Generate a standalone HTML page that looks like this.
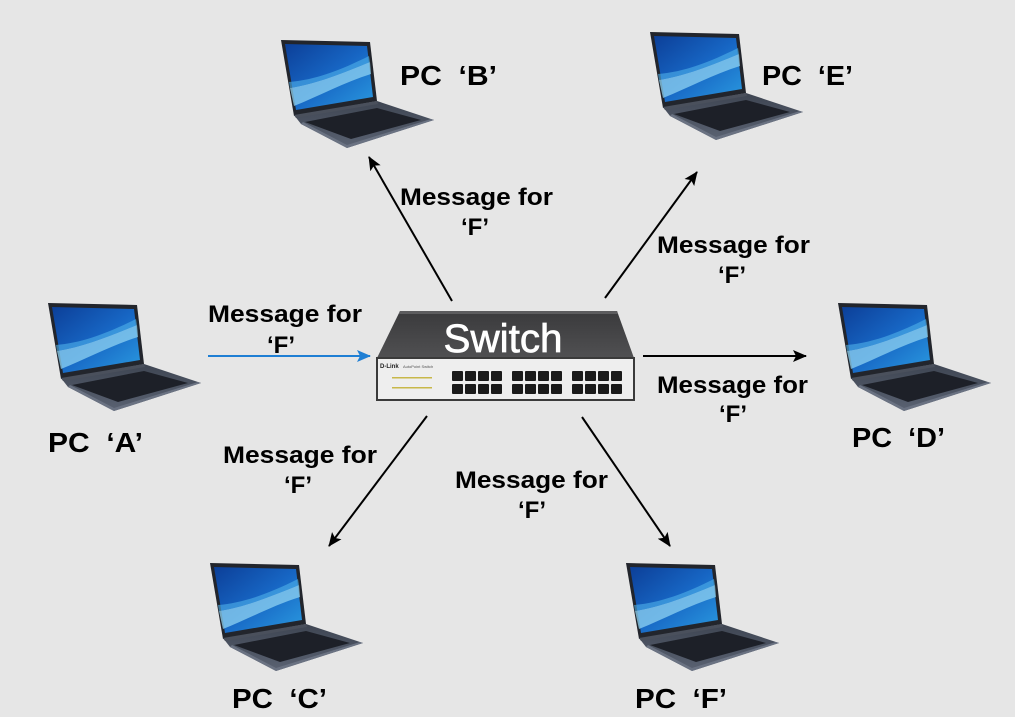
<!DOCTYPE html>
<html><head><meta charset="utf-8"><style>
html,body{margin:0;padding:0;background:#e6e6e6;}
svg{display:block;}
text{font-family:"Liberation Sans",Arial,sans-serif;}
</style></head><body>
<svg width="1015" height="717" viewBox="0 0 1015 717" xmlns="http://www.w3.org/2000/svg">
<defs>
 <linearGradient id="scrG" x1="0" y1="0" x2="1" y2="1">
  <stop offset="0" stop-color="#0c3f98"/>
  <stop offset="0.5" stop-color="#1766c4"/>
  <stop offset="1" stop-color="#2a9ae0"/>
 </linearGradient>
 <linearGradient id="baseG" x1="0" y1="0" x2="0" y2="1">
  <stop offset="0" stop-color="#3e4552"/>
  <stop offset="1" stop-color="#5a6272"/>
 </linearGradient>
 <linearGradient id="topG" x1="0" y1="0" x2="0" y2="1">
  <stop offset="0" stop-color="#3a3a3c"/>
  <stop offset="1" stop-color="#505052"/>
 </linearGradient>
 <marker id="ah" viewBox="0 0 14 12" refX="13" refY="6" markerWidth="14" markerHeight="12" markerUnits="userSpaceOnUse" orient="auto">
  <path d="M0,0 L14,6 L0,12 L3,6 Z" fill="#000"/>
 </marker>
 <marker id="ahb" viewBox="0 0 14 12" refX="13" refY="6" markerWidth="14" markerHeight="12" markerUnits="userSpaceOnUse" orient="auto">
  <path d="M0,0 L14,6 L0,12 L3,6 Z" fill="#1f7fd4"/>
 </marker>
 <g id="lap">
  <polygon points="13,75 96,61 153,80 66,108 20,84" fill="url(#baseG)"/>
  <polygon points="24,82 96,68 140,80 70,99" fill="#1d2028"/>
  <polygon points="20,84 66,108 153,80 150,79 66,105 22,82" fill="#6a7282"/>
  <polygon points="0,0 89,2 96,61 13,76" fill="#22252c"/>
  <polygon points="4,4 86,6 92,57 15,70" fill="url(#scrG)"/>
  <path d="M9,48 C35,44 62,33 89,22 L90,34 C64,42 38,56 13,66 Z" fill="#8fd3f2" opacity="0.75"/>
  <path d="M8,42 C34,40 60,30 88,16 L89,22 C62,33 35,44 9,48 Z" fill="#4fb0ea" opacity="0.6"/>
  <polygon points="13,75 96,61 97,64 15,78" fill="#4a505c"/>
 </g>
</defs>

<!-- laptops -->
<use href="#lap" x="48" y="303"/>
<use href="#lap" x="281" y="40"/>
<use href="#lap" x="650" y="32"/>
<use href="#lap" x="838" y="303"/>
<use href="#lap" x="210" y="563"/>
<use href="#lap" x="626" y="563"/>

<!-- switch -->
<polygon points="400,311 617,311 634,358 377,358" fill="url(#topG)"/>
<polygon points="400,311 617,311 618,314 399,314" fill="#5c5c5e"/>
<rect x="377" y="358" width="257" height="42" fill="#eeeeee" stroke="#3a3a3a" stroke-width="2"/>
<text x="380" y="368" font-size="6" font-weight="bold" fill="#222">D-Link</text>
<text x="403" y="368" font-size="4" fill="#555">AutoPoint Switch</text>
<g fill="#c8b84a">
 <rect x="392" y="377" width="40" height="1.5"/>
 <rect x="392" y="387" width="40" height="1.5"/>
</g>
<g fill="#1a1a1a">
 <rect x="452" y="371" width="11" height="10" rx="1"/><rect x="465" y="371" width="11" height="10" rx="1"/><rect x="478" y="371" width="11" height="10" rx="1"/><rect x="491" y="371" width="11" height="10" rx="1"/>
 <rect x="452" y="384" width="11" height="10" rx="1"/><rect x="465" y="384" width="11" height="10" rx="1"/><rect x="478" y="384" width="11" height="10" rx="1"/><rect x="491" y="384" width="11" height="10" rx="1"/>
 <rect x="512" y="371" width="11" height="10" rx="1"/><rect x="525" y="371" width="11" height="10" rx="1"/><rect x="538" y="371" width="11" height="10" rx="1"/><rect x="551" y="371" width="11" height="10" rx="1"/>
 <rect x="512" y="384" width="11" height="10" rx="1"/><rect x="525" y="384" width="11" height="10" rx="1"/><rect x="538" y="384" width="11" height="10" rx="1"/><rect x="551" y="384" width="11" height="10" rx="1"/>
 <rect x="572" y="371" width="11" height="10" rx="1"/><rect x="585" y="371" width="11" height="10" rx="1"/><rect x="598" y="371" width="11" height="10" rx="1"/><rect x="611" y="371" width="11" height="10" rx="1"/>
 <rect x="572" y="384" width="11" height="10" rx="1"/><rect x="585" y="384" width="11" height="10" rx="1"/><rect x="598" y="384" width="11" height="10" rx="1"/><rect x="611" y="384" width="11" height="10" rx="1"/>
</g>
<text x="503" y="352" font-size="40" fill="#ffffff" stroke="#ffffff" stroke-width="0.7" text-anchor="middle" textLength="119" lengthAdjust="spacingAndGlyphs">Switch</text>

<!-- arrows -->
<line x1="208" y1="356" x2="370" y2="356" stroke="#1f7fd4" stroke-width="2" marker-end="url(#ahb)"/>
<line x1="643" y1="356" x2="806" y2="356" stroke="#000" stroke-width="2" marker-end="url(#ah)"/>
<line x1="452" y1="301" x2="369" y2="157" stroke="#000" stroke-width="2" marker-end="url(#ah)"/>
<line x1="605" y1="298" x2="697" y2="172" stroke="#000" stroke-width="2" marker-end="url(#ah)"/>
<line x1="427" y1="416" x2="329" y2="546" stroke="#000" stroke-width="2" marker-end="url(#ah)"/>
<line x1="582" y1="417" x2="670" y2="546" stroke="#000" stroke-width="2" marker-end="url(#ah)"/>

<!-- PC labels -->
<g font-size="28" font-weight="bold" fill="#000">
 <text x="48" y="452" textLength="95" lengthAdjust="spacingAndGlyphs">PC&#160;&#160;‘A’</text>
 <text x="400" y="85" textLength="97" lengthAdjust="spacingAndGlyphs">PC&#160;&#160;‘B’</text>
 <text x="762" y="85" textLength="91" lengthAdjust="spacingAndGlyphs">PC&#160;&#160;‘E’</text>
 <text x="852" y="447" textLength="93" lengthAdjust="spacingAndGlyphs">PC&#160;&#160;‘D’</text>
 <text x="232" y="708" textLength="95" lengthAdjust="spacingAndGlyphs">PC&#160;&#160;‘C’</text>
 <text x="635" y="708" textLength="92" lengthAdjust="spacingAndGlyphs">PC&#160;&#160;‘F’</text>
</g>

<!-- message labels -->
<g font-size="24" font-weight="bold" fill="#000">
 <text x="400" y="205" textLength="153" lengthAdjust="spacingAndGlyphs">Message for</text>
 <text x="475" y="235" text-anchor="middle">‘F’</text>
 <text x="657" y="253" textLength="153" lengthAdjust="spacingAndGlyphs">Message for</text>
 <text x="732" y="283" text-anchor="middle">‘F’</text>
 <text x="208" y="322" textLength="154" lengthAdjust="spacingAndGlyphs">Message for</text>
 <text x="281" y="353" text-anchor="middle">‘F’</text>
 <text x="657" y="393" textLength="151" lengthAdjust="spacingAndGlyphs">Message for</text>
 <text x="733" y="422" text-anchor="middle">‘F’</text>
 <text x="223" y="463" textLength="154" lengthAdjust="spacingAndGlyphs">Message for</text>
 <text x="298" y="493" text-anchor="middle">‘F’</text>
 <text x="455" y="488" textLength="153" lengthAdjust="spacingAndGlyphs">Message for</text>
 <text x="532" y="518" text-anchor="middle">‘F’</text>
</g>
</svg>
</body></html>
